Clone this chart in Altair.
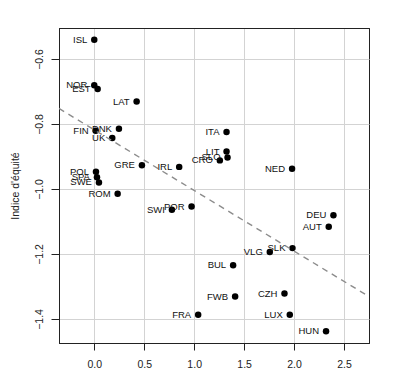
import altair as alt
import pandas as pd

countries = ["ISL", "NOR", "EST", "LAT", "DNK", "FIN", "UK", "GRE", "IRL", "POL",
             "SPA", "SWE", "ROM", "SWI", "POR", "ITA", "LIT", "SLO", "CRO", "NED",
             "DEU", "AUT", "VLG", "SLK", "BUL", "FWB", "CZH", "FRA", "LUX", "HUN"]
x_vals = [0.0, 0.0, 0.034, 0.424, 0.247, 0.014, 0.18, 0.477, 0.85, 0.017,
          0.027, 0.047, 0.234, 0.777, 0.974, 1.324, 1.324, 1.334, 1.257, 1.98,
          2.394, 2.347, 1.757, 1.984, 1.39, 1.41, 1.904, 1.04, 1.957, 2.32]
y_vals = [-0.541, -0.681, -0.692, -0.731, -0.815, -0.821, -0.843, -0.927, -0.932, -0.947,
          -0.964, -0.980, -1.015, -1.064, -1.054, -0.825, -0.885, -0.903, -0.912, -0.938,
          -1.081, -1.116, -1.194, -1.182, -1.235, -1.331, -1.322, -1.387, -1.387, -1.438]

x_ticks = [0.0, 0.5, 1.0, 1.5, 2.0, 2.5]
y_ticks = [-1.4, -1.2, -1.0, -0.8, -0.6]
x_domain = [-0.353, 2.75]
y_domain = [-1.474, -0.5046]

df = pd.DataFrame({"pays": countries, "x": x_vals, "y": y_vals})

FONT = "Liberation Sans"
FRAME = "#222"
GRID = "#d3d3d3"

xs = alt.Scale(domain=x_domain, nice=False, zero=False)
ys = alt.Scale(domain=y_domain, nice=False, zero=False)

# grid lines at the domain ends form the plot box
x_edge = f"datum.value < {x_domain[0] + 0.01} || datum.value > {x_domain[1] - 0.01}"
y_edge = f"datum.value < {y_domain[0] + 0.01} || datum.value > {y_domain[1] - 0.01}"

x_axis = alt.Axis(values=[x_domain[0]] + x_ticks + [x_domain[1]], format=".1f", title=None,
                  domain=True, domainColor=FRAME, domainWidth=1,
                  labelExpr=f"({x_edge}) ? '' : datum.label",
                  tickSize=7, tickColor=FRAME,
                  tickOpacity={"condition": {"test": x_edge, "value": 0}, "value": 1},
                  labelFontSize=10.5, labelColor="#222",
                  labelPadding=9, labelFont=FONT,
                  gridColor={"condition": {"test": x_edge, "value": FRAME}, "value": GRID},
                  gridWidth=1, gridOpacity=1)
y_axis = alt.Axis(values=[y_domain[0]] + y_ticks + [y_domain[1]], format=".1f",
                  title="Indice d'équité",
                  domain=True, domainColor=FRAME, domainWidth=1,
                  labelExpr=f"({y_edge}) ? '' : datum.label",
                  tickSize=8, tickColor=FRAME,
                  tickOpacity={"condition": {"test": y_edge, "value": 0}, "value": 1},
                  labelFontSize=10.5, labelColor="#222",
                  labelAngle=270, labelAlign="center", labelBaseline="alphabetic",
                  labelPadding=9, labelFont=FONT,
                  gridColor={"condition": {"test": y_edge, "value": FRAME}, "value": GRID},
                  gridWidth=1, gridOpacity=1,
                  titleFont=FONT,
                  titleFontSize=10.5, titleFontWeight="normal", titleColor="#222",
                  titleX=-44, titleY=157.5, titleAngle=270, titleAlign="center",
                  titleBaseline="middle")

base = alt.Chart(df)

points = base.mark_circle(size=42, color="black", opacity=1).encode(
    x=alt.X("x:Q", scale=xs, axis=x_axis),
    y=alt.Y("y:Q", scale=ys, axis=y_axis),
)

labels = base.mark_text(align="right", baseline="middle", dx=-7, fontSize=9.5,
                        font=FONT, color="#111").encode(
    x=alt.X("x:Q", scale=xs),
    y=alt.Y("y:Q", scale=ys),
    text="pays:N",
)

reg = base.transform_regression("x", "y", extent=x_domain).mark_line(
    color="#8c8c8c", strokeDash=[6, 5], strokeWidth=1.4, clip=True).encode(
    x=alt.X("x:Q", scale=xs),
    y=alt.Y("y:Q", scale=ys),
)

chart = alt.layer(points, reg, labels).properties(
    width=310, height=315,
    autosize=alt.AutoSizeParams(type="none"),
    padding={"left": 51, "top": 20, "right": 20, "bottom": 40},
    background="white",
).configure_view(
    stroke=FRAME, strokeWidth=1
)

chart.save("out.html", embed_options={"renderer": "svg", "actions": False})
